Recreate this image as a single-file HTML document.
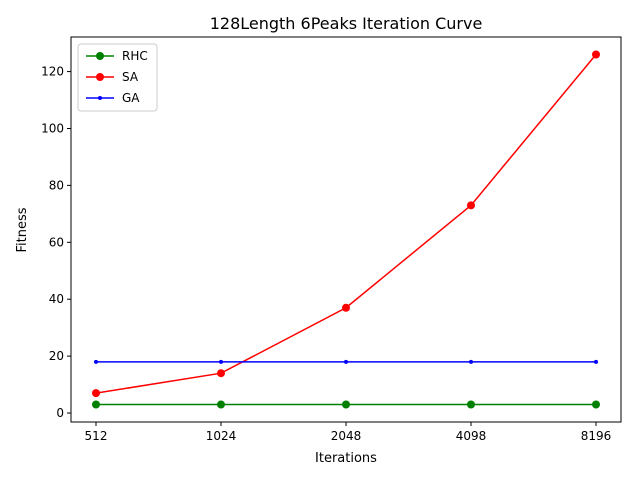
<!DOCTYPE html>
<html><head><meta charset="utf-8"><style>
body{margin:0;background:#fff;}
svg text{font-family:"DejaVu Sans","Liberation Sans",sans-serif;}
</style></head><body>
<svg id="chart" width="640" height="480" xmlns="http://www.w3.org/2000/svg">
<rect width="640" height="480" fill="#fff"/>
<text x="346" y="29" font-size="16" text-anchor="middle">128Length 6Peaks Iteration Curve</text>
<g id="plot"></g>
<text x="346" y="462" font-size="13" text-anchor="middle">Iterations</text>
<text transform="translate(26,230) rotate(-90)" font-size="13" text-anchor="middle">Fitness</text>
</svg>
<script>
const categories=["512","1024","2048","4098","8196"];
const rhcValues=[3,3,3,3,3];
const saValues=[7,14,37,73,126];
const gaValues=[18,18,18,18,18];
const yTicks=[0,20,40,60,80,100,120];
const L=71,R=621,T=37,B=422;
const yMin=-3.15,yMax=132.15;
function xs(i){return L+25+i*(R-L-50)/(categories.length-1);}
function ys(v){return B-(v-yMin)/(yMax-yMin)*(B-T);}
const NS="http://www.w3.org/2000/svg";
const g=document.getElementById('plot');
function mk(t,a){const e=document.createElementNS(NS,t);for(const k in a)e.setAttribute(k,a[k]);g.appendChild(e);return e;}
yTicks.forEach(v=>{
 const l=mk('line',{x1:L-4,x2:L,y1:ys(v),y2:ys(v),stroke:'#000'});
 
 
 const t=mk('text',{x:L-7,y:ys(v)+4,'font-size':12,'text-anchor':'end'});t.textContent=v;
 
 
});
categories.forEach((c,i)=>{
 const l=mk('line',{x1:xs(i),x2:xs(i),y1:B,y2:B+4,stroke:'#000'});
 
 
 const t=mk('text',{x:xs(i),y:B+18,'font-size':12,'text-anchor':'middle'});t.textContent=c;
 
 
});
function series(vals,color,r,name){
 const p=mk('polyline',{points:vals.map((v,i)=>xs(i)+','+ys(v)).join(' '),fill:'none',stroke:color,'stroke-width':1.5});
 
 
 vals.forEach((v,i)=>{const c=mk('circle',{cx:xs(i),cy:ys(v),r:r,fill:color});
  
  });
}
series(rhcValues,'green',4,'rhc');
series(saValues,'red',4,'sa');
series(gaValues,'blue',2,'ga');
const fr=mk('rect',{x:L,y:T,width:R-L,height:B-T,fill:'none',stroke:'#000','stroke-width':1});


const lg=mk('rect',{x:78,y:44,width:79,height:67,fill:'#fff',stroke:'#ccc',rx:3});


[['RHC','green',4],['SA','red',4],['GA','blue',2]].forEach((e,i)=>{
 const y=56+i*21;
 const l=mk('line',{x1:86,x2:114,y1:y,y2:y,stroke:e[1],'stroke-width':1.5});
 
 
 mk('circle',{cx:100,cy:y,r:e[2],fill:e[1]});
 const t=mk('text',{x:122,y:y+4,'font-size':12});t.textContent=e[0];
 
 
});
</script>
</body></html>
